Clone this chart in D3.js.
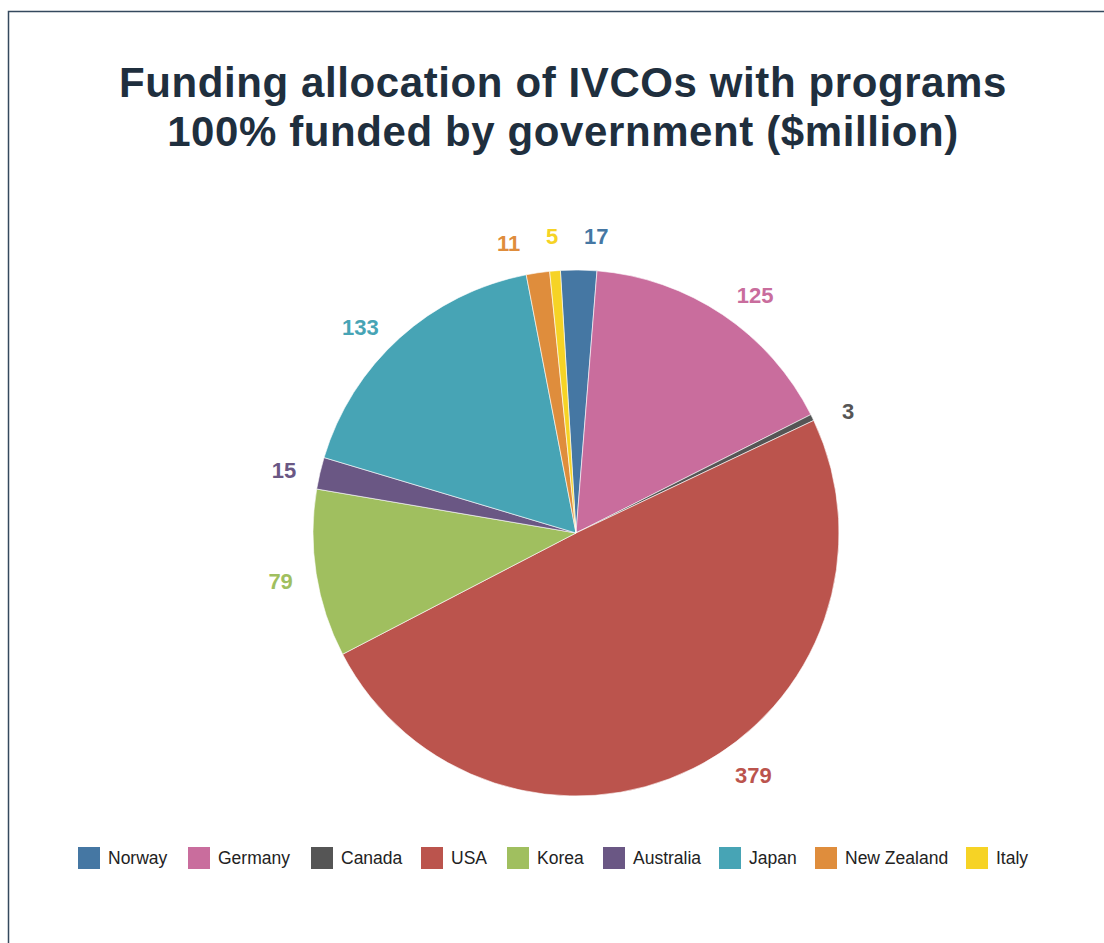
<!DOCTYPE html>
<html>
<head>
<meta charset="utf-8">
<script src="https://cdn.jsdelivr.net/npm/d3@7"></script>
<style>
  body { margin: 0; background: #fff; }
  svg { display: block; }
</style>
</head>
<body>
<div id="chart"></div>
<script>
(function () {
    'use strict';

    const countries = ['Norway', 'Germany', 'Canada', 'USA', 'Korea', 'Australia', 'Japan', 'New Zealand', 'Italy'];
    const funding = [17, 125, 3, 379, 79, 15, 133, 11, 5];
    const colors = ['#4577a3', '#c96d9d', '#555555', '#bb544d', '#a0bf5f', '#6a5784', '#47a4b5', '#df8d3c', '#f6d325'];
    const titleLines = ['Funding allocation of IVCOs with programs', '100% funded by government ($million)'];

    // small angle nudges (degrees) for labels that the original pushes aside
    const labelNudge = { Norway: 3.3, Germany: 2.9, Canada: 1.6, USA: -10, Australia: -0.8, Japan: -4, 'New Zealand': -4.7 };

    const width = 1104;
    const height = 943;
    const cx = 576, cy = 533, radius = 263;
    const startDeg = -3.4;

    const data = countries.map((c, i) => ({ name: c, value: funding[i], color: colors[i] }));

    const svg = d3.select('#chart').append('svg')
        .attr('width', width)
        .attr('height', height);

    // frame
    svg.append('rect')
        .attr('x', 8.5)
        .attr('y', 11.5)
        .attr('width', width + 10)
        .attr('height', height + 10)
        .attr('fill', 'none')
        .attr('stroke', '#34495e')
        .attr('stroke-width', 1.5);

    svg.append('g')
        .attr('font-family', '"Liberation Sans", Arial, sans-serif')
        .attr('font-weight', 'bold')
        .attr('font-size', 42)
        .attr('letter-spacing', 0.6)
        .attr('fill', '#1f2f3e')
        .attr('text-anchor', 'middle')
        .selectAll('text')
        .data(titleLines)
        .join('text')
        .attr('x', 563)
        .attr('y', (d, i) => 97 + i * 49)
        .text(d => d);

    const start = startDeg * Math.PI / 180;
    const pie = d3.pie()
        .value(d => d.value)
        .sort(null)
        .startAngle(start)
        .endAngle(start + 2 * Math.PI);

    const arcs = pie(data);
    const arc = d3.arc().innerRadius(0).outerRadius(radius);

    const g = svg.append('g')
        .attr('transform', `translate(${cx},${cy})`);

    g.append('g')
        .selectAll('path')
        .data(arcs)
        .join('path')
        .attr('d', arc)
        .attr('fill', d => d.data.color)
        .attr('stroke', '#fff')
        .attr('stroke-width', 0.6);

    const labelR = 299;
    g.append('g')
        .attr('font-family', '"Liberation Sans", Arial, sans-serif')
        .attr('font-weight', 'bold')
        .attr('font-size', 22)
        .attr('text-anchor', 'middle')
        .selectAll('text')
        .data(arcs)
        .join('text')
        .attr('fill', d => d.data.color)
        .attr('dy', '0.42em')
        .attr('transform', d => {
            const a = (d.startAngle + d.endAngle) / 2 + (labelNudge[d.data.name] || 0) * Math.PI / 180;
            return `translate(${Math.sin(a) * labelR},${-Math.cos(a) * labelR})`;
        })
        .text(d => d.data.value);

    // legend
    const legendX = [78, 188, 311, 421, 507, 603, 719, 815, 966];
    const legend = svg.append('g')
        .attr('font-family', '"Liberation Sans", Arial, sans-serif')
        .attr('font-size', 17.5)
        .selectAll('g')
        .data(data)
        .join('g')
        .attr('transform', (d, i) => `translate(${legendX[i]},847)`);

    legend.append('rect')
        .attr('width', 22)
        .attr('height', 22)
        .attr('fill', d => d.color);

    legend.append('text')
        .attr('x', 30)
        .attr('y', 17)
        .attr('fill', '#222')
        .text(d => d.name);
})();
</script>
</body>
</html>
